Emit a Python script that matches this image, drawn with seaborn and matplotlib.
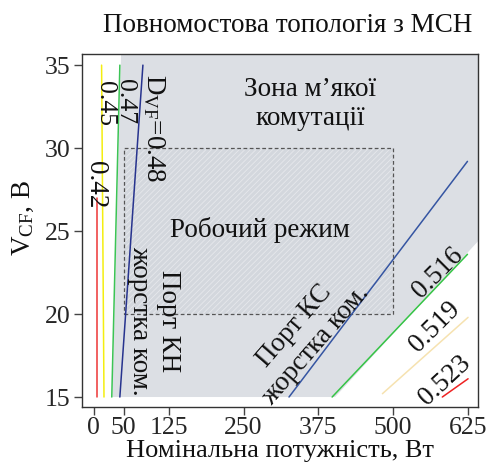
import matplotlib
matplotlib.use("Agg")
import matplotlib.pyplot as plt
from matplotlib.patches import Rectangle, Polygon
import numpy as np
import pandas as pd
import seaborn as sns

# Boundary curves: nominal power (W) vs V_CF (V), one entry per duty-cycle value
curve_names = ["0.42", "0.45", "0.47", "0.48", "KS", "0.516", "0.519", "0.523"]
power_042 = [5, 5]
vcf_042 = [15, 27.0]
power_045 = [17, 13]
vcf_045 = [15, 35]
power_047 = [30, 43.5]
vcf_047 = [15, 35]
power_048 = [43.5, 82]
vcf_048 = [15, 35]
power_ks = [326, 624]
vcf_ks = [15, 29.2]
power_0516 = [398, 624]
vcf_0516 = [15, 23.6]
power_0519 = [482, 625]
vcf_0519 = [15.2, 19.8]
power_0523 = [582, 625]
vcf_0523 = [15, 16.1]

# Soft-switching zone outline
zone_power = [31, 403, 642, 642, 45.5]
zone_vcf = [15, 15, 24.4, 35.7, 35.7]

# Operating region
work_power = [50, 500]
work_vcf = [20, 30]

x_ticks = [0, 50, 125, 250, 375, 500, 625]
y_ticks = [15, 20, 25, 30, 35]

curve_colors = {
    "0.42": "#ee3535",
    "0.45": "#f4ee10",
    "0.47": "#3cc455",
    "0.48": "#27338e",
    "KS": "#3555a2",
    "0.516": "#35c445",
    "0.519": "#f6e2b0",
    "0.523": "#ee2222",
}

powers = [power_042, power_045, power_047, power_048, power_ks, power_0516, power_0519, power_0523]
vcfs = [vcf_042, vcf_045, vcf_047, vcf_048, vcf_ks, vcf_0516, vcf_0519, vcf_0523]
df = pd.concat(
    [pd.DataFrame({"power": p, "vcf": v, "curve": n}) for n, p, v in zip(curve_names, powers, vcfs)],
    ignore_index=True,
)

sns.set_theme(style="white")
serif = "Liberation Serif"
plt.rcParams["font.family"] = [serif, "DejaVu Serif"]
plt.rcParams["mathtext.fontset"] = "custom"
plt.rcParams["mathtext.rm"] = serif
plt.rcParams["mathtext.it"] = serif + ":italic"
plt.rcParams["hatch.linewidth"] = 0.6
plt.rcParams["hatch.color"] = "#e6e8ec"

FS = 19.5
TICK_FS = 18.5
fig = plt.figure(figsize=(4.9, 4.63), dpi=100)
ax = fig.add_axes([0.167, 0.121, 0.809, 0.762])

# Soft-switching zone
ax.add_patch(Polygon(np.column_stack([zone_power, zone_vcf]), closed=True,
                     facecolor="#dcdfe4", edgecolor="none", zorder=0))

# Operating region: hatched fill + dashed outline
w0, w1 = work_power
v0, v1 = work_vcf
ax.add_patch(Rectangle((w0, v0), w1 - w0, v1 - v0, facecolor="#d3d7dd",
                       edgecolor="#e6e8ec", linewidth=0, hatch="//////", zorder=1))
ax.add_patch(Rectangle((w0, v0), w1 - w0, v1 - v0, facecolor="none",
                       edgecolor="#555555", linewidth=0.9, linestyle=(0, (3, 2)), zorder=2))

sns.lineplot(data=df, x="power", y="vcf", hue="curve", palette=curve_colors,
             units="curve", estimator=None, sort=False, legend=False,
             linewidth=1.1, ax=ax, zorder=3)

ax.set_xlim(-20, 642)
ax.set_ylim(14.4, 35.66)
ax.set_xticks(x_ticks)
ax.set_yticks(y_ticks)
ax.set_xlabel("")
ax.set_ylabel("")
ax.tick_params(axis="both", direction="out", length=6, width=1.0, color="#444444",
               labelsize=TICK_FS, pad=2, bottom=True, left=True)
ax.tick_params(axis="x", pad=1)
for s in ax.spines.values():
    s.set_color("#333333")
    s.set_linewidth(1.0)

# Curve labels
txt = dict(ha="center", va="center", fontsize=FS, rotation_mode="anchor", color="#111111", zorder=5)
tight = dict(txt, fontsize=18.5)
ax.text(2, 27.8, "0.42", rotation=-90, **txt)
ax.text(18, 32.7, "0.45", rotation=-90, **tight)
ax.text(52, 32.8, "0.47", rotation=-90, **tight)
ax.text(101, 31.2, r"D$_{\mathrm{VF}}$=0.48", rotation=-90, **txt)
ax.text(575, 22.5, "0.516", rotation=45, **txt)
ax.text(570, 19.2, "0.519", rotation=45, **txt)
ax.text(587, 16.0, "0.523", rotation=43, **txt)

# Region labels
ax.text(361, 32.65, "Зона м’якої\nкомутації", multialignment="center", **txt)
ax.text(277, 25.05, "Робочий режим", **txt)
ax.text(100, 19.6, "Порт КН\nжорстка ком.", rotation=-90, multialignment="center", **txt)
ax.text(353, 18.7, "Порт КС\nжорстка ком.", rotation=49, multialignment="center", **txt)

fig.text(288 / 490, 1 - 25 / 463, "Повномостова топологія з МСН", ha="center", va="center",
         fontsize=FS, color="#111111")
fig.text(280 / 490, 1 - 457 / 463, "Номінальна потужність, Вт", ha="center", va="baseline",
         fontsize=19, color="#111111")
fig.text(23 / 490, 1 - 218 / 463, r"V$_{\mathrm{CF}}$, В", ha="center", va="center",
         rotation=90, fontsize=FS, color="#111111")

fig.savefig("out.png", dpi=100)
